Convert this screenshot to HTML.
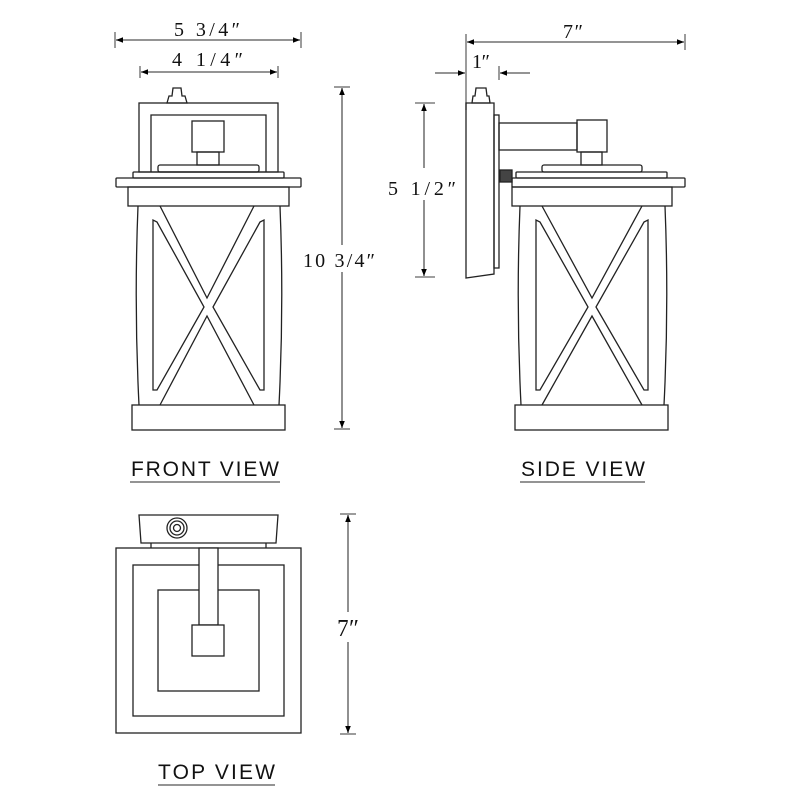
<!DOCTYPE html>
<html><head><meta charset="utf-8"><style>html,body{margin:0;padding:0;background:#fff}svg{display:block}text{white-space:pre}</style></head><body>
<svg width="800" height="800" viewBox="0 0 800 800" xmlns="http://www.w3.org/2000/svg">
<defs>
<marker id="a" viewBox="0 0 10 10" refX="10" refY="5" markerWidth="16" markerHeight="7" markerUnits="userSpaceOnUse" orient="auto-start-reverse"><path d="M0,1 L10,5 L0,9z" fill="#000"/></marker>
</defs>
<g fill="none" stroke="#222" stroke-width="1.3">
<line x1="115" y1="32" x2="115" y2="48" stroke="#666"/><line x1="301" y1="32" x2="301" y2="48" stroke="#666"/>
<line x1="116" y1="40" x2="300" y2="40" stroke="#555" marker-start="url(#a)" marker-end="url(#a)"/>
<line x1="140" y1="66" x2="140" y2="78" stroke="#666"/><line x1="278" y1="66" x2="278" y2="78" stroke="#666"/>
<line x1="141" y1="72" x2="277" y2="72" stroke="#555" marker-start="url(#a)" marker-end="url(#a)"/>
<line x1="334" y1="87" x2="350" y2="87" stroke="#666"/><line x1="334" y1="429" x2="350" y2="429" stroke="#666"/>
<line x1="342" y1="88" x2="342" y2="245" stroke="#555" marker-start="url(#a)"/><line x1="342" y1="272" x2="342" y2="428" stroke="#555" marker-end="url(#a)"/>
<path d="M167,103 L169,96 L172,96 L173,88 L181,88 L182,96 L185,96 L187,103Z"/>
<rect x="139" y="103" width="139" height="69"/>
<polyline points="151,172 151,115 266,115 266,172"/>
<rect x="192" y="121" width="32" height="31"/>
<rect x="197" y="152" width="22" height="13"/>
<rect x="158" y="165" width="101" height="7" rx="2"/>
<rect x="133" y="172" width="151" height="6" rx="1"/>
<rect x="116" y="178" width="185" height="9" rx="1"/>
<rect x="128" y="187" width="161" height="19"/>
<path d="M138,206 Q134,305 139,405 M280,206 Q284,305 279,405"/>
<path d="M153,220 L153,390 L157,390 L204,307 L157,222Z M264,220 L264,390 L260,390 L213,307 L260,222Z"/>
<path d="M160,206 L207,298 L254,206 M160,405 L207,316 L254,405"/>
<rect x="132" y="405" width="153" height="25"/>
<line x1="466" y1="34" x2="466" y2="110" stroke="#666"/><line x1="685" y1="34" x2="685" y2="50" stroke="#666"/>
<line x1="467" y1="42" x2="684" y2="42" stroke="#555" marker-start="url(#a)" marker-end="url(#a)"/>
<line x1="435" y1="73" x2="465" y2="73" stroke="#555" marker-end="url(#a)"/>
<line x1="530" y1="73" x2="500" y2="73" stroke="#555" marker-end="url(#a)"/>
<line x1="499" y1="66" x2="499" y2="80" stroke="#666"/>
<line x1="415" y1="103" x2="435" y2="103" stroke="#666"/><line x1="415" y1="277" x2="435" y2="277" stroke="#666"/>
<line x1="424" y1="104" x2="424" y2="168" stroke="#555" marker-start="url(#a)"/><line x1="424" y1="200" x2="424" y2="276" stroke="#555" marker-end="url(#a)"/>
<path d="M472,103 L473,96 L475,96 L476,88 L486,88 L487,96 L489,96 L490,103Z"/>
<path d="M466,103 L494,103 L494,274 L466,278Z"/>
<rect x="494" y="115" width="5" height="153"/>
<rect x="499" y="123" width="78" height="27"/>
<rect x="577" y="120" width="30" height="32"/>
<rect x="581" y="152" width="21" height="13"/>
<rect x="542" y="165" width="100" height="7" rx="2"/>
<rect x="516" y="172" width="151" height="6" rx="1"/>
<rect x="512" y="178" width="173" height="9" rx="1"/>
<rect x="500" y="170" width="12" height="12" fill="#444"/>
<rect x="512" y="187" width="160" height="19"/>
<path d="M520,206 Q516,305 521,405 M665,206 Q669,305 664,405"/>
<path d="M536,220 L536,390 L540,390 L588,307 L540,222Z M648,220 L648,390 L644,390 L596,307 L644,222Z"/>
<path d="M542,206 L592,298 L642,206 M542,405 L592,316 L642,405"/>
<rect x="515" y="405" width="153" height="25"/>
<path d="M139,515 L278,515 L276,543 L141,543Z"/>
<circle cx="177" cy="528" r="10"/><circle cx="177" cy="528" r="7"/><circle cx="177" cy="528" r="3.5"/>
<line x1="151" y1="543" x2="151" y2="548"/><line x1="266" y1="543" x2="266" y2="548"/>
<rect x="116" y="548" width="185" height="185"/>
<rect x="133" y="565" width="151" height="151"/>
<rect x="158" y="590" width="101" height="101"/>
<rect x="199" y="548" width="19" height="77" fill="#fff"/>
<rect x="192" y="625" width="32" height="31" fill="#fff"/>
<line x1="340" y1="514" x2="356" y2="514" stroke="#666"/><line x1="340" y1="734" x2="356" y2="734" stroke="#666"/>
<line x1="348" y1="515" x2="348" y2="612" stroke="#555" marker-start="url(#a)"/><line x1="348" y1="642" x2="348" y2="733" stroke="#555" marker-end="url(#a)"/>
<line x1="130" y1="482" x2="280" y2="482" stroke="#555"/>
<line x1="520" y1="482" x2="645" y2="482" stroke="#555"/>
<line x1="158" y1="785" x2="275" y2="785" stroke="#555"/>
</g>
<g font-family="Liberation Serif, serif" font-size="20" fill="#111">
<text x="174" y="36" textLength="66" lengthAdjust="spacing">5 3/4″</text>
<text x="172" y="66" textLength="71" lengthAdjust="spacing">4 1/4″</text>
<text x="303" y="267" textLength="72" lengthAdjust="spacing" style="paint-order:stroke" stroke="#fff" stroke-width="6">10 3/4″</text>
<text x="563" y="38" textLength="20" lengthAdjust="spacing">7″</text>
<text x="472" y="68" textLength="18" lengthAdjust="spacing">1″</text>
<text x="388" y="195" textLength="68" lengthAdjust="spacing" style="paint-order:stroke" stroke="#fff" stroke-width="6">5 1/2″</text>
<text x="337" y="636" font-size="24" textLength="22" lengthAdjust="spacing" style="paint-order:stroke" stroke="#fff" stroke-width="6">7″</text>
</g>
<g font-family="Liberation Sans, sans-serif" font-size="21" fill="#111">
<text x="131" y="476" textLength="148" lengthAdjust="spacing">FRONT VIEW</text>
<text x="521" y="476" textLength="124" lengthAdjust="spacing">SIDE VIEW</text>
<text x="158" y="779" textLength="117" lengthAdjust="spacing">TOP VIEW</text>
</g>
</svg>
</body></html>
